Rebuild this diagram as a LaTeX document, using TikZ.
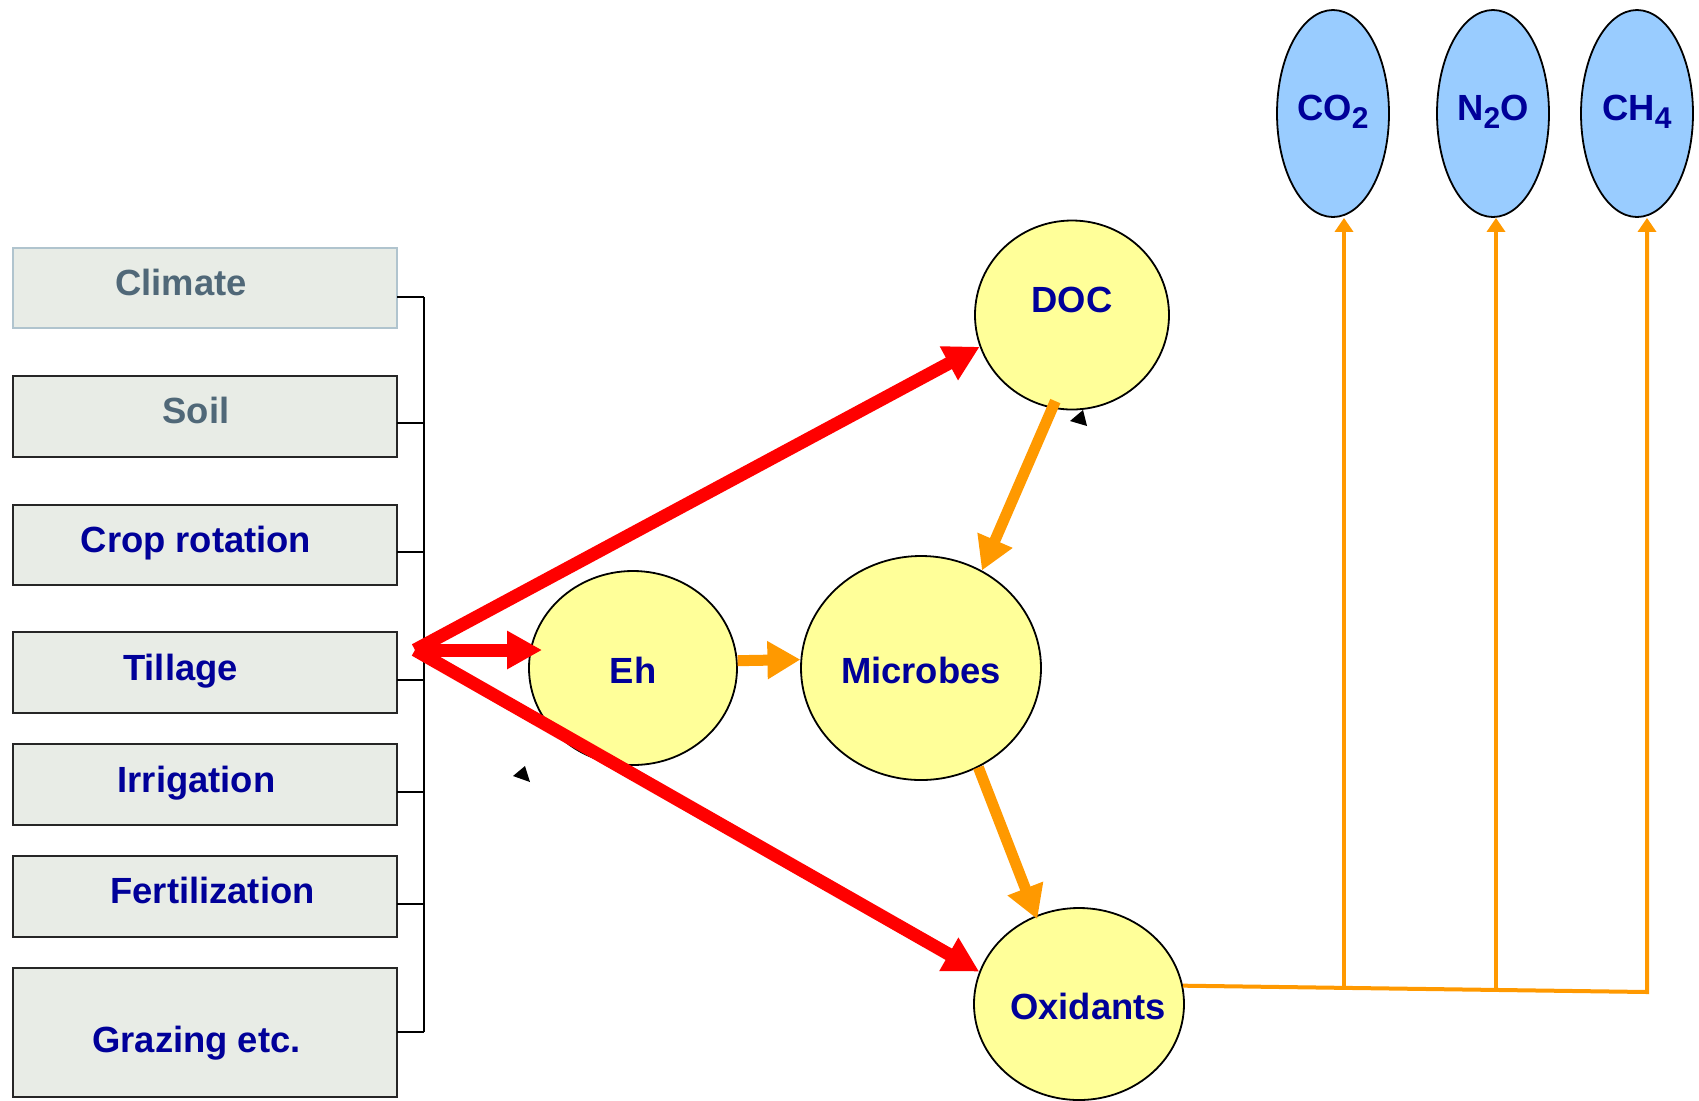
\documentclass[tikz,border=0pt]{standalone}
\usepackage{fontspec}
\setmainfont{Liberation Sans}
\usetikzlibrary{arrows.meta,shapes.geometric}
\definecolor{boxfill}{RGB}{232,236,230}
\definecolor{climateline}{RGB}{176,196,206}
\definecolor{factorblue}{RGB}{0,0,153}
\definecolor{factorgrey}{RGB}{80,104,120}
\definecolor{poolyellow}{RGB}{255,255,153}
\definecolor{gasblue}{RGB}{153,204,255}
\definecolor{floworange}{RGB}{255,153,0}
\definecolor{pushred}{RGB}{255,0,0}
\begin{document}
\begin{tikzpicture}[x=0.5pt,y=-0.5pt,font=\fontsize{18.2}{22}\selectfont\bfseries,
  factor/.style={draw=black!85,fill=boxfill,line width=1pt,minimum width=192pt,minimum height=40.5pt,inner sep=0pt},
  factortext/.style={anchor=base,inner sep=0pt,text=factorblue},
  pool/.style={ellipse,draw=black,fill=poolyellow,line width=0.9pt,inner sep=0pt},
  gas/.style={ellipse,draw=black,fill=gasblue,line width=0.9pt,inner sep=0pt,minimum width=56pt,minimum height=103.5pt},
  bracket/.style={draw=black,line width=1.3pt},
  push/.style={draw=pushred,line width=6.5pt,-{Triangle[length=17.5pt,width=18pt]}},
  flow/.style={draw=floworange,line width=5.5pt,-{Triangle[length=16.5pt,width=18pt]}},
  emit/.style={draw=floworange,line width=2pt,-{Triangle[length=7pt,width=9pt]}}]
\useasboundingbox (0,0) rectangle (1699,1100);
% management factors
\node[factor,draw=climateline,minimum height=40pt] (climate) at (205,288) {};
\node[factortext,text=factorgrey] (climate-text) at (181,295) {Climate};
\node[factor] (soil) at (205,416.5) {};
\node[factortext,text=factorgrey] (soil-text) at (196,423) {Soil};
\node[factor,minimum height=40pt] (rotation) at (205,545) {};
\node[factortext] (rotation-text) at (196,552) {Crop rotation};
\node[factor] (tillage) at (205,672.5) {};
\node[factortext] (tillage-text) at (180.5,680) {Tillage};
\node[factor] (irrigation) at (205,784.5) {};
\node[factortext] (irrigation-text) at (196.5,792) {Irrigation};
\node[factor] (fertilization) at (205,896.5) {};
\node[factortext] (fertilization-text) at (212.5,903) {Fertilization};
\node[factor,minimum height=64.5pt] (grazing) at (205,1032.5) {};
\node[factortext] (grazing-text) at (196.5,1052) {Grazing etc.};
\draw[bracket] (424,297) -- (424,1032);
\draw[bracket] (397,297) -- (424,297);
\draw[bracket] (397,423) -- (424,423);
\draw[bracket] (397,552) -- (424,552);
\draw[bracket] (397,680) -- (424,680);
\draw[bracket] (397,792) -- (424,792);
\draw[bracket] (397,904) -- (424,904);
\draw[bracket] (397,1032) -- (424,1032);
\coordinate (src) at (415,650);
% soil pools
\node[pool,minimum width=97pt,minimum height=94.5pt] (doc) at (1072,315) {};
\node[factortext] (doc-text) at (1072,312) {DOC};
\node[pool,minimum width=104pt,minimum height=97pt] (eh) at (633,668) {};
\node[factortext] (eh-text) at (633,683) {Eh};
\node[pool,minimum width=120pt,minimum height=112pt] (microbes) at (921,668) {};
\node[factortext] (microbes-text) at (921,683) {Microbes};
\node[pool,minimum width=105pt,minimum height=96pt] (oxidants) at (1079,1004) {};
\node[factortext] (oxidants-text) at (1088,1019) {Oxidants};
% gases
\node[gas] (co2) at (1333,113.5) {};
\node[factortext] (co2-text) at (1333,120) {CO\raisebox{-4pt}{\fontsize{15}{15}\selectfont 2}};
\node[gas] (n2o) at (1493,113.5) {};
\node[factortext] (n2o-text) at (1493,120) {N\raisebox{-4pt}{\fontsize{15}{15}\selectfont 2}O};
\node[gas] (ch4) at (1637,113.5) {};
\node[factortext] (ch4-text) at (1637,120) {CH\raisebox{-4pt}{\fontsize{15}{15}\selectfont 4}};
% arrows
\draw[push] (src) -- (doc.199);
\draw[push,shorten >=-7pt] (src) -- (eh.west |- src);
\draw[push] (src) -- (oxidants.162);
\draw[flow,shorten <=-4pt] (doc.258) -- (microbes.58);
\draw[flow] (eh.4) -- (microbes.176);
\draw[flow,shorten >=-2pt] (microbes.300) -- (oxidants.116);
\coordinate (j-co2) at (1344,989.3);
\coordinate (j-n2o) at (1496,990.6);
\coordinate (j-ch4) at (1647,992);
\draw[emit] (oxidants.10) -- (j-ch4) -- (j-ch4 |- ch4.south);
\draw[emit] (j-co2) -- (j-co2 |- co2.south);
\draw[emit] (j-n2o) -- (j-n2o |- n2o.south);
\fill (525,766) -- (513,776) -- (530,782) -- cycle;
\fill (1083,410) -- (1070,421) -- (1087,426) -- cycle;
\end{tikzpicture}
\end{document}
